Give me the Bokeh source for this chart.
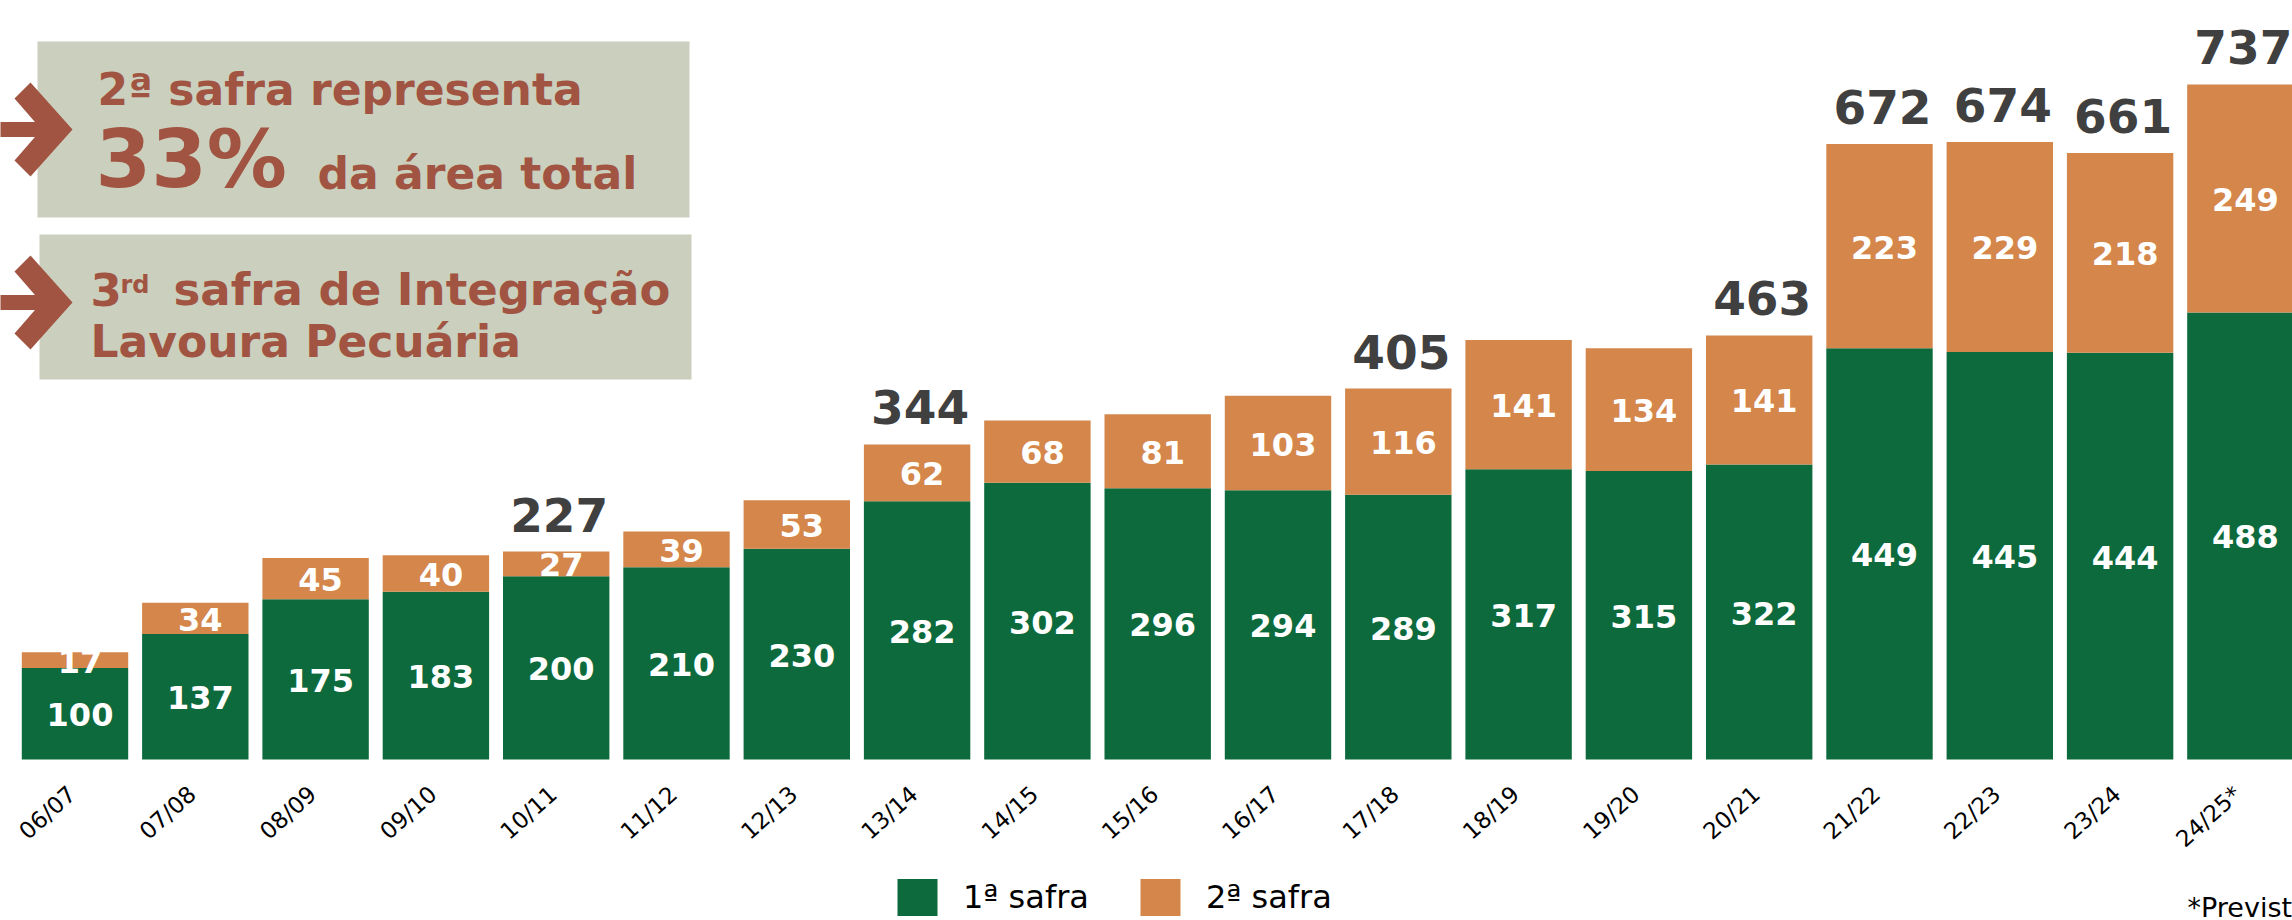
import math
from bokeh.plotting import figure
from bokeh.models import (ColumnDataSource, Range1d, Label,
                          BoxAnnotation, Legend, LegendItem)
from bokeh.core.properties import value
from bokeh.embed import file_html
from bokeh.resources import INLINE

# ---------------- data ----------------
seasons = ["06/07", "07/08", "08/09", "09/10", "10/11", "11/12", "12/13",
           "13/14", "14/15", "15/16", "16/17", "17/18", "18/19", "19/20",
           "20/21", "21/22", "22/23", "23/24", "24/25*"]
first_crop = [100, 137, 175, 183, 200, 210, 230, 282, 302, 296, 294, 289,
              317, 315, 322, 449, 445, 444, 488]
second_crop = [17, 34, 45, 40, 27, 39, 53, 62, 68, 81, 103, 116,
               141, 134, 141, 223, 229, 218, 249]
total_labels = [None, None, None, None, 227, None, None, 344, None, None,
                None, 405, None, None, 463, 672, 674, 661, 737]
legend_labels = ["1ª safra", "2ª safra"]
note_text = "*Previsto"

# ---------------- style ----------------
GREEN = "#0D6A3D"
ORANGE = "#D4864B"
RUST = "#A05441"
BOXC = "#CBCFBD"
DARK = "#404040"
FONT = "DejaVu Sans"

W, H = 2292, 920
BASE = 759          # pixel row of the value 0
PX_X = 120.3        # pixels per category
PX_Y = 0.916        # pixels per thousand ha
X0 = -74.5 / PX_X

x_range = Range1d(X0, X0 + W / PX_X)
y_range = Range1d(-(H - BASE) / PX_Y, BASE / PX_Y)


def dx(X):
    return X0 + X / PX_X


def dy(Y):
    return (BASE - Y) / PX_Y


p = figure(width=W, height=H, x_range=x_range, y_range=y_range,
           output_backend="svg", toolbar_location=None,
           x_axis_location=None, y_axis_location=None,
           min_border=0, outline_line_color=None,
           background_fill_color="white", border_fill_color="white")
p.grid.visible = False

# info boxes (under everything)
for (l, t, r, b) in [(37, 41, 689, 217), (39, 234, 691, 379)]:
    p.add_layout(BoxAnnotation(left=dx(l), right=dx(r), top=dy(t), bottom=dy(b),
                               fill_color=BOXC, fill_alpha=1, line_color=None,
                               level="underlay"))

idx = list(range(len(seasons)))
src = ColumnDataSource(dict(x=idx, season=seasons, first=first_crop,
                            second=second_crop))
rs = p.vbar_stack(["first", "second"], x="x", width=0.8845,
                  color=[GREEN, ORANGE], line_color=None, source=src)

# segment labels
shift_x = 5 / PX_X
seg = ColumnDataSource(dict(
    x=[i + shift_x for i in idx] * 2,
    y=[f / 2 - 1 / PX_Y for f in first_crop]
      + [f + s / 2 - 1 / PX_Y for f, s in zip(first_crop, second_crop)],
    t=[str(f) for f in first_crop] + [str(s) for s in second_crop]))
p.text(x="x", y="y", text="t", source=seg, text_align="center",
       text_baseline="middle", text_font=value(FONT), text_font_style="bold",
       text_font_size="32px", text_color="white")

# totals (centre of the digits sits ~37 px above the bar top)
tx = [i for i, t in enumerate(total_labels) if t is not None]
tot = ColumnDataSource(dict(
    x=[i + 3 / PX_X for i in tx],
    y=[first_crop[i] + second_crop[i] + 37 / PX_Y for i in tx],
    t=[str(total_labels[i]) for i in tx]))
p.text(x="x", y="y", text="t", source=tot, text_align="center",
       text_baseline="middle", text_font=value(FONT),
       text_font_style="bold", text_font_size="47px", text_color=DARK)

# category (season) labels, rotated, under each bar
cat = ColumnDataSource(dict(x=[i - 3 / PX_X for i in idx],
                            y=[-31 / PX_Y] * len(idx), t=seasons))
p.text(x="x", y="y", text="t", source=cat, angle=math.radians(42),
       text_align="right", text_baseline="middle", text_font=value(FONT),
       text_font_size="23px", text_color="black")

# legend
legend = Legend(items=[LegendItem(label=legend_labels[0], renderers=[rs[0]]),
                       LegendItem(label=legend_labels[1], renderers=[rs[1]])],
                orientation="horizontal", location=(892, 0),
                glyph_width=50, glyph_height=46, label_height=46,
                label_standoff=21, spacing=46, padding=0, margin=0,
                label_text_font_size="32px", label_text_font=FONT,
                label_text_color="black", border_line_color=None,
                background_fill_alpha=0)
p.add_layout(legend)

# arrows
xs, ys = [], []
for off in (0, 173):
    chev = [(30, 82), (72, 129), (30, 176), (14, 160), (41, 129), (14, 98)]
    shaft = [(-5, 121.5), (45, 121.5), (45, 136.5), (-5, 136.5)]
    for poly in (chev, shaft):
        xs.append([dx(a) for a, _ in poly])
        ys.append([dy(b + off) for _, b in poly])
p.patches(xs, ys, fill_color=RUST, line_color=None)


def lab(X, baseline, text, size, bold=True, color=RUST):
    # text is centred vertically; place the centre 0.35 em above the baseline
    p.add_layout(Label(x=dx(X), y=dy(baseline - 0.35 * size), text=text,
                       text_font=FONT,
                       text_font_style="bold" if bold else "normal",
                       text_font_size=f"{size}px", text_color=color,
                       text_baseline="middle", text_align="left"))


lab(97, 104, "2ª safra representa", 44)
lab(95, 187, "33%", 80)
lab(317, 188, "da área total", 44)
lab(90, 305, "3", 45)
lab(120, 293, "rd", 24)
lab(173, 305, "safra de Integração", 45)
lab(90, 356, "Lavoura Pecuária", 44)
lab(2187, 916, note_text, 27, bold=False, color="black")

open("out.html", "w").write(file_html(p, INLINE))
